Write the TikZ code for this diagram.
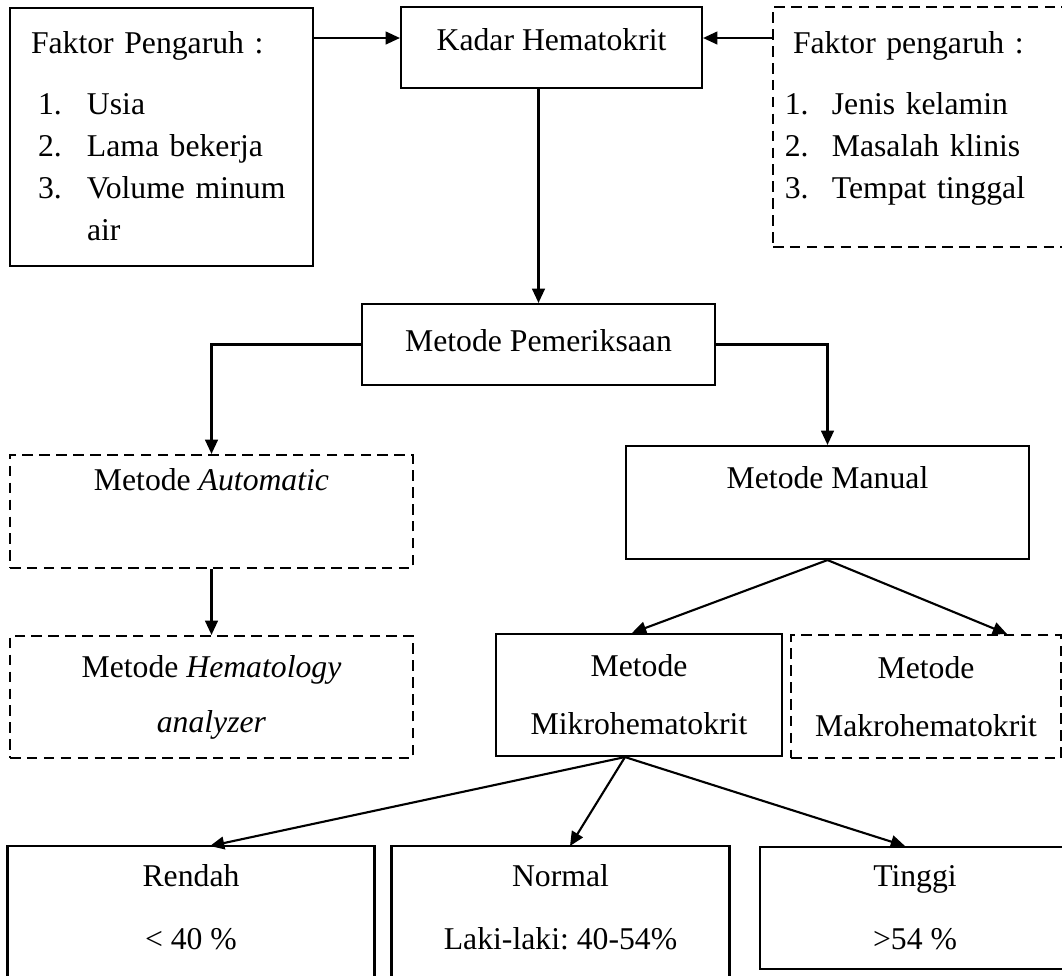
\documentclass[tikz,border=0pt]{standalone}
\usepackage{fontspec}
\setmainfont{Liberation Serif}
\usepackage{tikz}
\usetikzlibrary{arrows.meta,calc}
\newcommand{\pxu}{0.01331cm}

\begin{document}
\frenchspacing
\begin{tikzpicture}[
    x=0.01331cm, y=-0.01331cm,
    every node/.style = {font=\fontsize{12}{14}\selectfont, inner sep=0pt},
    box/.style = {rectangle, draw, line width=0.8pt},
    dbox/.style = {box, dash pattern=on 4pt off 2.4pt},
    sz/.style 2 args = {minimum width=#1*\pxu, minimum height=#2*\pxu},
    listbox/.style = {align=left, font=\fontsize{12}{15.9}\selectfont},
    line/.style = {draw, line width=0.8pt, -{Triangle[length=5.4pt, width=4.8pt]}}
]
\useasboundingbox (0,0) rectangle (1062,975);
\clip (0,0) rectangle (1062,975);

\node[box, sz={303}{258}, listbox, text width=98.8pt] (faktorL) at (161.5,137) {\rule{0pt}{12.3pt}Faktor Pengaruh :\\[7pt]
\begin{tabular}[t]{@{\hspace{2.7pt}}p{18.5pt}@{}l@{}}1. & Usia\\ 2. & Lama bekerja\\ 3. & Volume minum\\ & air\end{tabular}};
\node[box, sz={301}{81}, text depth=5.7pt] (kadar) at (551.5,47.5) {Kadar Hematokrit};
\node[dbox, sz={300}{240}, listbox, text width=104.6pt] (faktorR) at (923,127) {\hspace*{3.1pt}Faktor pengaruh :\\[7pt]
\begin{tabular}[t]{@{}p{17.8pt}@{}l@{}}1. & Jenis kelamin\\ 2. & Masalah klinis\\ 3. & Tempat tinggal\\[4.5pt]\end{tabular}};
\node[box, sz={353}{81}, text depth=3.4pt] (periksa) at (538.5,344.5) {Metode Pemeriksaan};
\node[dbox, sz={403}{113}, text depth=24pt] (auto) at (211.5,511.5) {Metode \textit{Automatic}};
\node[box, sz={403}{113}, text depth=18.6pt] (manual) at (827.5,502.5) {Metode Manual};
\node[dbox, sz={403}{122}, align=center] (hemat) at (211.5,697) {Metode \textit{Hematology}\\[6.8pt]\textit{analyzer}};
\node[box, sz={286}{122}, align=center] (mikro) at (639,695) {Metode\\[8pt]Mikrohematokrit};
\node[dbox, sz={270}{123}, align=center] (makro) at (926,696.5) {Metode\\[8pt]Makrohematokrit};
\node[sz={366}{122}, align=center, anchor=north] (rendah) at (191,846) {Rendah\\[9.9pt]< 40 \%};
\node[sz={337}{122}, align=center, anchor=north] (normal) at (560.5,846) {Normal\\[9.9pt]Laki-laki: 40-54\%};
\node[box, sz={310}{122}, align=center, anchor=north] (tinggi) at (915,846) {Tinggi\\[9.9pt]>54 \%};
\draw[line width=0.8pt] ([yshift=-1cm]rendah.south west) |- (rendah.north east) -- ([yshift=-1cm]rendah.south east);
\draw[line width=0.8pt] ([yshift=-1cm]normal.south west) |- (normal.north east) -- ([yshift=-1cm]normal.south east);

\coordinate (ay) at (0,38);
\coordinate (mk) at ($(mikro.south)+(-14,0)$);
\path[line] (faktorL.east |- ay) -- (kadar.west |- ay);
\path[line] (faktorR.west |- ay) -- (kadar.east |- ay);
\path[line] (kadar.south -| periksa.north) -- (periksa.north);
\path[line] (periksa.west) -| (auto.north);
\path[line] (periksa.east) -| (manual.north);
\path[line] (auto.south) -- (hemat.north);
\path[line] (manual.south) -- ($(mikro.north)+(-7,0)$);
\path[line] (manual.south) -- ($(makro.north)+(81,0)$);
\path[line] (mk) -- ($(rendah.north)+(19,0)$);
\path[line] (mk) -- ($(normal.north)+(9.5,0)$);
\path[line] (mk) -- ($(tinggi.north)+(-10,0)$);
\end{tikzpicture}
\end{document}
